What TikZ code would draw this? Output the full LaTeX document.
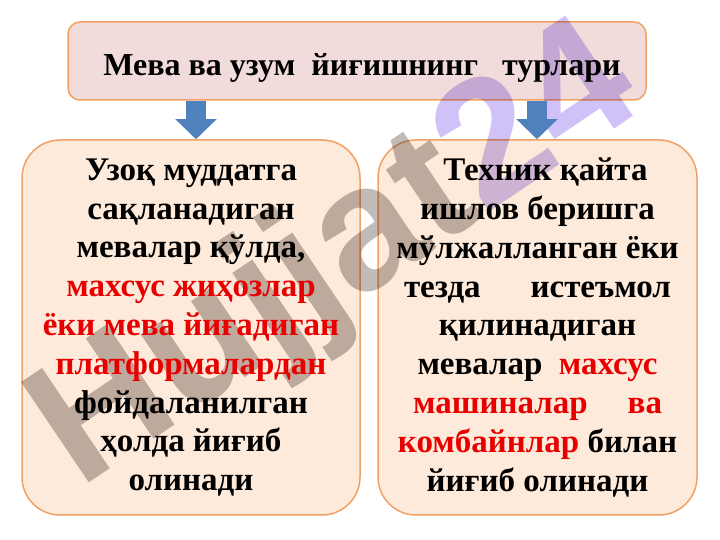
\documentclass[tikz,border=0pt]{standalone}
\usepackage{fontspec}
\setmainfont{Liberation Serif}
\newfontfamily\marksans{Liberation Sans}
\usetikzlibrary{positioning,calc,arrows.meta}
\definecolor{myorange}{RGB}{242,160,100}
\definecolor{mypeach}{RGB}{253,234,218}
\definecolor{mypink}{RGB}{242,220,219}
\definecolor{myblue}{RGB}{79,129,189}
\definecolor{myred}{RGB}{232,0,0}
\definecolor{mygray}{RGB}{192,186,184}
\definecolor{myviolet}{RGB}{208,194,248}

\begin{document}
\begin{tikzpicture}[x=1pt,y=1pt,
box/.style={draw=myorange,line width=1.5pt,fill=mypeach,rounded corners=38pt,minimum height=375pt},
body/.style={font=\fontsize{33}{38.8}\selectfont\bfseries,align=center,inner sep=0pt},
edge/.style={myblue,line width=20pt,-{Triangle[width=40pt,length=20pt]}}]

\useasboundingbox (0,0) rectangle (720,540);

% boxes
\node[draw=myorange,line width=1.5pt,fill=mypink,rounded corners=12pt,minimum width=578pt,minimum height=78pt](head) at (357,479) {};
\node[box,minimum width=338pt](longbox) at (191,212.5) {};
\node[box,minimum width=319pt](fastbox) at (537.5,212.5) {};

% watermark
\begin{scope}[blend mode=multiply]
\node[font=\marksans\bfseries\fontsize{176}{176}\selectfont,rotate=34,inner sep=0pt](watermark) at (338,280) {\textcolor{mygray}{Hujjat}\textcolor{myviolet}{24}};
\end{scope}

% arrows
\coordinate (larrow) at (196,0);
\coordinate (rarrow) at (537,0);
\draw[edge] (head.south -| larrow) -- (longbox.north -| larrow);
\draw[edge] (head.south -| rarrow) -- (fastbox.north -| rarrow);

% texts
\node[body,font=\fontsize{32}{36}\selectfont\bfseries](headtext) at (362,472) {Мева ва узум\ \ йиғишнинг\ \ \ турлари};
\node[body](longtext) at (longbox) {Узоқ муддатга\\
сақланадиган\\
мевалар қўлда,\\
\textcolor{myred}{махсус жиҳозлар}\\
\textcolor{myred}{ёки мева йиғадиган}\\
\textcolor{myred}{платформалардан}\\
фойдаланилган\\
ҳолда йиғиб\\
олинади};
\node[body](fasttext) at (fastbox) {\hspace*{16pt}Техник қайта\\
ишлов беришга\\
мўлжалланган ёки\\
\hbox to 267pt{тезда\hfill истеъмол}\\
қилинадиган\\
\hbox to 240pt{мевалар\hfill \textcolor{myred}{махсус}}\\
\hbox to 249pt{\textcolor{myred}{машиналар}\hfill \textcolor{myred}{ва}}\\
\textcolor{myred}{комбайнлар} билан\\
йиғиб олинади};

\end{tikzpicture}
\end{document}
